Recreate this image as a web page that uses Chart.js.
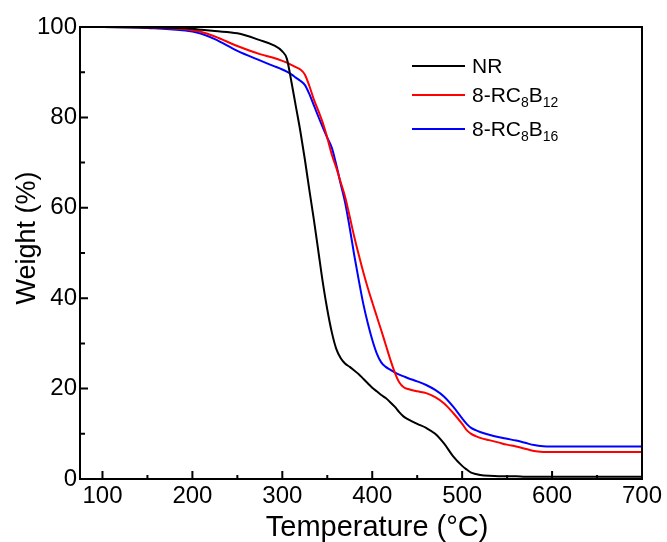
<!DOCTYPE html>
<html>
<head>
<meta charset="utf-8">
<script src="https://cdn.jsdelivr.net/npm/chart.js@4.4.1/dist/chart.umd.min.js"></script>
<style>
body { margin: 0; background: #fff; }
#wrap { position: relative; width: 667px; height: 542px; }
#legend { position: absolute; left: 412px; top: 0; font-family: "Liberation Sans", Arial, sans-serif; font-size: 21px; color: #000; }
#legend .row { position: absolute; left: 0; display: flex; align-items: center; height: 34px; white-space: nowrap; }
#legend .swatch { width: 53px; height: 2px; margin-right: 7px; }
#legend sub { font-size: 14px; vertical-align: -5px; line-height: 0; }
</style>
</head>
<body>
<div id="wrap">
<canvas id="tga"></canvas>
<div id="legend"></div>
</div>
<script>
var temps = [75,100,150,200,210,225,250,275,290,300,305,310,315,320,325,330,335,340,345,350,355,360,365,370,375,380,385,390,395,400,405,410,415,420,425,430,435,440,450,460,470,480,490,500,505,510,515,520,530,540,550,560,570,580,590,600,650,700];

var nr = [100,100,99.9,99.6,99.4,99.1,98.6,97.1,96,94.6,93,88,82.5,77,70.8,64,57.5,50.5,43.5,37.5,32.5,28.8,26.7,25.5,24.8,24,23.2,22.2,21.2,20.2,19.4,18.6,17.9,17,16,14.8,13.8,13.2,12.2,11.3,10,7.8,5,2.9,2.1,1.4,1.1,0.9,0.7,0.6,0.6,0.6,0.5,0.5,0.5,0.5,0.5,0.5];

var rc12 = [100,100,99.9,99.3,98.9,97.9,95.8,94,93.2,92.5,92.1,91.6,91.1,90.6,89.5,87,84,81.5,78.8,75.5,71.8,68.9,65.6,62.3,58,53.6,49.6,45.8,42.3,39.1,36,32.9,29.7,26.5,23.6,21.4,20.3,19.9,19.4,19,18.1,16.7,14.6,12.2,10.8,10,9.5,9.1,8.6,8.1,7.6,7.2,6.7,6.2,6,5.95,6,6];

var rc16 = [100,100,99.8,99,98.5,97.3,94.7,92.6,91.4,90.6,90.1,89.5,88.8,88.1,87.2,85.2,82.7,80.2,77.8,75.5,73.3,69.5,65.2,61,55.5,49.5,44,38.8,34.5,30.8,27.8,25.8,24.8,24.2,23.6,23.1,22.7,22.3,21.6,20.8,19.7,18.2,16,13.4,12.2,11.3,10.8,10.4,9.8,9.3,8.9,8.5,8,7.5,7.25,7.2,7.2,7.2];

var seriesNames = ["NR", "8-RC<sub>8</sub>B<sub>12</sub>", "8-RC<sub>8</sub>B<sub>16</sub>"];
var seriesColors = ["#000000", "#ff0000", "#0000ff"];
var legendRowY = [66, 95, 129];
var xTicks = [100, 200, 300, 400, 500, 600, 700];
var yTicks = [0, 20, 40, 60, 80, 100];

function pts(vals) {
	return temps.map(function (t, i) { return { x: t, y: vals[i] }; });
}

var fontFam = '"Liberation Sans", Arial, sans-serif';

// box + inward tick marks
var boxTicks = {
	id: 'boxTicks',
	afterDraw: function (chart) {
		var ctx = chart.ctx, a = chart.chartArea;
		var xs = chart.scales.x, ys = chart.scales.y;
		ctx.save();
		ctx.strokeStyle = '#000';
		ctx.lineWidth = 2;
		ctx.strokeRect(a.left, a.top, a.right - a.left, a.bottom - a.top);
		ctx.beginPath();
		xs.ticks.forEach(function (t) {
			var p = xs.getPixelForValue(t.value);
			var len = xTicks.indexOf(t.value) >= 0 ? 8 : 4;
			ctx.moveTo(p, a.bottom);
			ctx.lineTo(p, a.bottom - len);
		});
		ys.ticks.forEach(function (t) {
			var p = ys.getPixelForValue(t.value);
			var len = yTicks.indexOf(t.value) >= 0 ? 8 : 5;
			ctx.moveTo(a.left, p);
			ctx.lineTo(a.left + len, p);
		});
		ctx.stroke();
		ctx.restore();
	}
};

var datasets = [nr, rc12, rc16].map(function (v, i) {
	return {
		label: seriesNames[i].replace(/<[^>]+>/g, ''),
		data: pts(v),
		borderColor: seriesColors[i],
		borderWidth: 2,
		pointRadius: 0,
		fill: false,
		cubicInterpolationMode: 'monotone'
	};
});

new Chart(document.getElementById("tga"), {
	type: 'line',
	data: { datasets: datasets },
	options: {
		responsive: true,
		maintainAspectRatio: false,
		animation: false,
		layout: { padding: { top: 27, right: 25, left: 0, bottom: 0 } },
		plugins: { legend: { display: false }, tooltip: { enabled: false } },
		scales: {
			x: {
				type: 'linear',
				min: 75,
				max: 700,
				grid: { display: false, drawTicks: false },
				border: { display: false },
				ticks: {
					stepSize: 50,
					includeBounds: false,
					autoSkip: false,
					maxRotation: 0,
					padding: 3,
					color: '#000',
					font: { family: fontFam, size: 24 },
					callback: function (v) { return xTicks.indexOf(v) >= 0 ? v : ''; }
				},
				title: { display: true, text: '    Temperature (°C)', color: '#000', font: { family: fontFam, size: 29 }, padding: { top: 0, bottom: -3 } },
				afterFit: function (s) { s.height = 63; }
			},
			y: {
				min: 0,
				max: 100,
				grid: { display: false, drawTicks: false },
				border: { display: false },
				ticks: {
					stepSize: 10,
					autoSkip: false,
					padding: 3,
					color: '#000',
					font: { family: fontFam, size: 24 },
					callback: function (v) { return yTicks.indexOf(v) >= 0 ? v : ''; }
				},
				title: { display: true, text: '    Weight (%)', color: '#000', font: { family: fontFam, size: 27 }, padding: { top: 11, bottom: 0 } },
				afterFit: function (s) { s.width = 80; }
			}
		}
	},
	plugins: [boxTicks]
});

// html legend (needs subscripts)
var leg = document.getElementById('legend');
seriesNames.forEach(function (n, i) {
	var row = document.createElement('div');
	row.className = 'row';
	row.style.top = (legendRowY[i] - 17) + 'px';
	row.innerHTML = '<span class="swatch" style="background:' + seriesColors[i] + '"></span><span>' + n + '</span>';
	leg.appendChild(row);
});
</script>
</body>
</html>
